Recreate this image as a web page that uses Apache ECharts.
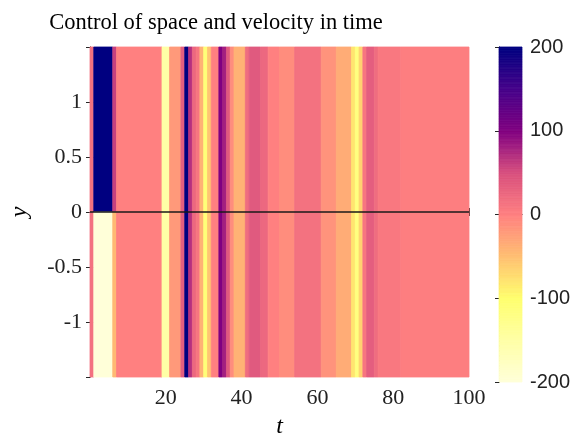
<!DOCTYPE html>
<html>
<head>
<meta charset="utf-8">
<script src="https://cdn.jsdelivr.net/npm/echarts@6/dist/echarts.min.js"></script>
<style>
  html, body { margin: 0; padding: 0; background: #fff; }
  #chart { width: 577px; height: 444px; }
</style>
</head>
<body>
<div id="chart"></div>
<script>
// stripes in time: start / end of each run, value above y=0 and below y=0
const segStart = [0, 1, 6, 7, 19, 21, 24, 25, 26, 27, 28, 29, 30, 31, 32, 34, 35, 36, 37, 38, 41, 42, 45, 47, 50, 54, 61, 65, 69, 70, 71, 72, 73, 75, 76, 82]
const segEnd   = [1, 6, 7, 19, 21, 24, 25, 26, 27, 28, 29, 30, 31, 32, 34, 35, 36, 37, 38, 41, 42, 45, 47, 50, 54, 61, 65, 69, 70, 71, 72, 73, 75, 76, 82, 100]
const topVals  = [15, 200, 60, 0, -150, -20, 35, 200, 70, 25, 10, -40, -110, -55, 0, 100, 80, 40, -10, -40, 20, 40, 25, 0, -10, 15, -15, -35, -80, -115, -65, 10, 35, 20, 8, 2]
const botVals  = [15, -200, -45, 0, -150, -20, 35, 200, 70, 25, 10, -40, -110, -55, 0, 100, 80, 40, -10, -40, 20, 40, 25, 0, -10, 15, -15, -35, -80, -115, -65, 10, 35, 20, 8, 2]

const yLimits = [-1.5, 1.5]
const zeroLineT = [0, 100]
const zeroLineY = [0, 0]
const colorTicks = [-200, -100, 0, 100, 200]

const cmap = ['#ffffd9', '#ffffa6', '#ffff6e', '#ffbf72', '#ff8080', '#d8507f', '#800080', '#45008a', '#000080']

const cells = []
segStart.forEach((s, i) => {
  cells.push([s, segEnd[i], 0, yLimits[1], topVals[i]])
  cells.push([s, segEnd[i], yLimits[0], 0, botVals[i]])
})

// colorbar levels
const barCells = []
for (let v = -200; v < 200; v += 2) {
  barCells.push([0, 1, v, v + 2, v + 1])
}

const renderCell = (params, api) => {
  const p0 = api.coord([api.value(0), api.value(3)])
  const p1 = api.coord([api.value(1), api.value(2)])
  const c = api.visual('color')
  return {
    type: 'rect',
    shape: { x: p0[0], y: p0[1], width: p1[0] - p0[0], height: p1[1] - p0[1] },
    style: { fill: c, stroke: c, lineWidth: 0.8 }
  }
}

const serif = 'Liberation Serif'
const axisCol = '#262626'

const chart = echarts.init(document.getElementById('chart'))

const option = {
  animation: false,
  title: {
    text: 'Control of space and velocity in time',
    left: 211,
    top: 7,
    textAlign: 'center',
    textStyle: { fontFamily: serif, fontWeight: 'normal', fontSize: 22.5, color: '#000' }
  },
  grid: [
    { left: 87, top: 47, width: 382, height: 335 },
    { left: 499, top: 47, width: 23, height: 335 }
  ],
  visualMap: {
    show: false,
    min: -200,
    max: 200,
    dimension: 4,
    seriesIndex: [0, 1],
    inRange: { color: cmap }
  },
  xAxis: [
    {
      type: 'value', gridIndex: 0, min: 0, max: 100, interval: 20,
      name: 't', nameLocation: 'middle', nameGap: 38,
      nameTextStyle: { fontFamily: serif, fontStyle: 'italic', fontSize: 24, color: '#000' },
      axisLine: { lineStyle: { color: axisCol, width: 0.8 } },
      axisTick: { inside: true, length: 4, lineStyle: { color: axisCol } },
      axisLabel: { showMinLabel: false, fontFamily: serif, fontSize: 22, color: '#222', margin: 10 },
      splitLine: { show: false }
    },
    {
      type: 'value', gridIndex: 0, position: 'top', min: 0, max: 100, interval: 20,
      axisLine: { lineStyle: { color: axisCol, width: 0.8 } },
      axisTick: { inside: true, length: 4, lineStyle: { color: axisCol } },
      axisLabel: { show: false }, splitLine: { show: false }
    },
    {
      type: 'value', gridIndex: 1, min: 0, max: 1,
      axisLine: { lineStyle: { color: axisCol, width: 0.8 } },
      axisTick: { show: false }, axisLabel: { show: false }, splitLine: { show: false }
    },
    {
      type: 'value', gridIndex: 1, position: 'top', min: 0, max: 1,
      axisLine: { lineStyle: { color: axisCol, width: 0.8 } },
      axisTick: { show: false }, axisLabel: { show: false }, splitLine: { show: false }
    }
  ],
  yAxis: [
    {
      type: 'value', gridIndex: 0, min: yLimits[0], max: yLimits[1], interval: 0.5,
      name: 'y', nameLocation: 'middle', nameGap: 58, nameRotate: 90,
      nameTextStyle: { fontFamily: serif, fontStyle: 'italic', fontSize: 24, color: '#000' },
      axisLine: { lineStyle: { color: axisCol, width: 0.8 } },
      axisTick: { inside: true, length: 4, lineStyle: { color: axisCol } },
      axisLabel: { showMinLabel: false, showMaxLabel: false, fontFamily: serif, fontSize: 22, color: '#222', margin: 8 },
      splitLine: { show: false }
    },
    {
      type: 'value', gridIndex: 0, position: 'right', min: yLimits[0], max: yLimits[1], interval: 0.5,
      axisLine: { lineStyle: { color: axisCol, width: 0.8 } },
      axisTick: { inside: true, length: 4, lineStyle: { color: axisCol } },
      axisLabel: { show: false }, splitLine: { show: false }
    },
    {
      type: 'value', gridIndex: 1, position: 'right', min: colorTicks[0], max: colorTicks[colorTicks.length - 1], interval: 100,
      axisLine: { show: true, lineStyle: { color: axisCol, width: 0.8 } },
      axisTick: { inside: true, length: 4, lineStyle: { color: axisCol } },
      axisLabel: { fontFamily: 'Liberation Sans', fontSize: 20, color: '#222', margin: 8 },
      splitLine: { show: false }
    },
    {
      type: 'value', gridIndex: 1, position: 'left', min: -200, max: 200,
      axisLine: { show: true, lineStyle: { color: axisCol, width: 0.8 } },
      axisTick: { show: false }, axisLabel: { show: false }, splitLine: { show: false }
    }
  ],
  series: [
    {
      type: 'custom', xAxisIndex: 0, yAxisIndex: 0,
      renderItem: renderCell,
      encode: { x: [0, 1], y: [2, 3] },
      data: cells,
      z: 1
    },
    {
      type: 'custom', xAxisIndex: 2, yAxisIndex: 2,
      renderItem: renderCell,
      encode: { x: [0, 1], y: [2, 3] },
      data: barCells,
      z: 1
    },
    {
      type: 'line', xAxisIndex: 0, yAxisIndex: 0,
      data: zeroLineT.map((t, i) => [t, zeroLineY[i]]),
      symbol: 'none',
      lineStyle: { color: '#1a1a1a', width: 1.4 },
      z: 5
    }
  ]
}

chart.setOption(option)
</script>
</body>
</html>
